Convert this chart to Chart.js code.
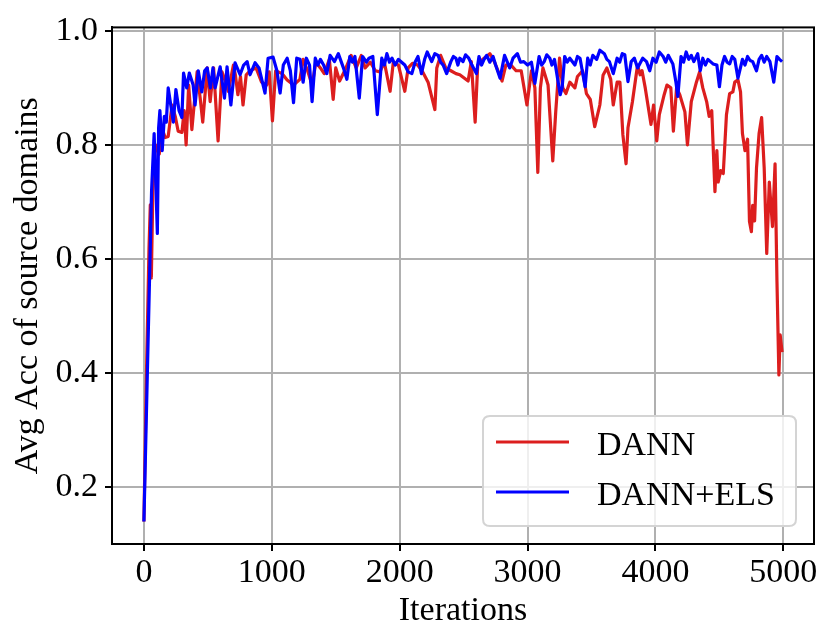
<!DOCTYPE html>
<html>
<head>
<meta charset="utf-8">
<script src="https://cdn.jsdelivr.net/npm/chart.js@4"></script>
<style>
  html, body { margin: 0; padding: 0; background: #ffffff; }
  #wrap { width: 831px; height: 644px; }
</style>
</head>
<body>
<div id="wrap"><canvas id="c" width="831" height="644"></canvas></div>
<script>
// ---- data (iteration, accuracy) ----
const seriesNames = ["DANN", "DANN+ELS"];
const seriesColors = ["#dc1e1e", "#0000ff"];

const dannIters = [0,20,40,50,58,70,90,120,140,166,190,220,245,268,297,315,330,350,375,416,440,460,495,518,545,580,610,640,660,700,715,735,755,775,800,830,877,920,960,980,1005,1030,1080,1120,1170,1220,1245,1280,1315,1345,1380,1410,1450,1480,1500,1530,1570,1620,1660,1700,1730,1770,1810,1845,1880,1925,1950,1990,2040,2066,2100,2140,2180,2222,2275,2290,2320,2360,2400,2440,2470,2535,2560,2590,2610,2650,2705,2740,2800,2830,2870,2910,2950,2995,3030,3057,3080,3100,3120,3160,3197,3220,3250,3275,3300,3330,3370,3390,3430,3460,3490,3525,3565,3590,3620,3650,3670,3700,3722,3745,3770,3785,3820,3860,3880,3895,3920,3965,3985,4010,4030,4068,4090,4120,4140,4165,4190,4230,4250,4280,4320,4345,4370,4400,4420,4440,4465,4480,4490,4510,4530,4555,4580,4605,4620,4645,4665,4680,4700,4720,4735,4750,4760,4775,4790,4810,4830,4850,4870,4890,4915,4935,4950,4965,4975,4990];
const dannAcc = [0.14,0.40,0.62,0.695,0.567,0.72,0.80,0.784,0.83,0.813,0.815,0.87,0.85,0.824,0.822,0.86,0.80,0.905,0.827,0.928,0.882,0.84,0.935,0.876,0.935,0.807,0.928,0.91,0.894,0.94,0.923,0.888,0.92,0.87,0.923,0.93,0.935,0.91,0.905,0.928,0.842,0.93,0.925,0.914,0.905,0.915,0.95,0.93,0.905,0.945,0.935,0.925,0.95,0.88,0.935,0.912,0.93,0.957,0.935,0.957,0.935,0.945,0.93,0.928,0.945,0.894,0.945,0.94,0.894,0.935,0.943,0.94,0.928,0.91,0.862,0.935,0.957,0.935,0.93,0.925,0.923,0.912,0.946,0.84,0.94,0.95,0.96,0.946,0.912,0.94,0.94,0.93,0.93,0.87,0.93,0.90,0.752,0.90,0.935,0.905,0.772,0.858,0.952,0.90,0.89,0.91,0.90,0.92,0.93,0.89,0.88,0.832,0.87,0.922,0.935,0.915,0.87,0.91,0.91,0.818,0.767,0.83,0.876,0.94,0.923,0.93,0.90,0.836,0.87,0.807,0.853,0.888,0.905,0.90,0.824,0.90,0.888,0.858,0.80,0.876,0.91,0.928,0.90,0.876,0.85,0.86,0.718,0.79,0.735,0.755,0.75,0.853,0.89,0.893,0.91,0.914,0.893,0.82,0.79,0.81,0.666,0.648,0.694,0.667,0.76,0.82,0.848,0.76,0.61,0.735,0.657,0.767,0.56,0.397,0.467,0.437];

const elsIters = [
  0,60,80,95,105,115,125,143,160,175,
  190,210,230,250,275,297,310,335,355,385,
  400,425,453,475,495,520,540,557,596,630,
  650,680,713,752,780,807,830,869,900,947,
  971,1010,1040,1065,1090,1120,1145,1170,1195,1221,
  1245,1270,1295,1315,1340,1360,1380,1405,1430,1456,
  1490,1520,1560,1587,1610,1630,1650,1684,1710,1740,
  1760,1790,1825,1860,1880,1900,1920,1940,1965,1990,
  2015,2040,2066,2095,2120,2143,2170,2195,2215,2250,
  2275,2300,2320,2340,2367,2400,2420,2440,2455,2470,
  2495,2515,2540,2565,2600,2620,2640,2660,2680,2705,
  2730,2750,2785,2820,2860,2886,2920,2945,2970,3000,
  3030,3057,3090,3110,3130,3150,3174,3190,3210,3255,
  3270,3290,3310,3330,3370,3390,3410,3450,3470,3490,
  3510,3540,3565,3600,3620,3640,3670,3700,3720,3740,
  3760,3785,3810,3835,3860,3900,3930,3955,3980,4005,
  4030,4060,4080,4100,4136,4160,4175,4200,4220,4240,
  4260,4280,4300,4330,4350,4370,4390,4410,4450,4480,
  4500,4520,4540,4560,4580,4600,4620,4645,4680,4700,
  4720,4740,4760,4790,4810,4830,4850,4870,4895,4925,
  4950,4970,4990];
const elsAcc = [
  0.14,0.72,0.82,0.72,0.645,0.83,0.86,0.79,0.85,0.84,
  0.90,0.87,0.84,0.897,0.86,0.848,0.926,0.90,0.926,0.905,
  0.87,0.93,0.893,0.93,0.935,0.90,0.935,0.90,0.937,0.882,
  0.937,0.87,0.944,0.923,0.94,0.946,0.923,0.944,0.935,0.891,
  0.952,0.954,0.93,0.891,0.94,0.952,0.93,0.874,0.952,0.95,
  0.91,0.952,0.94,0.876,0.952,0.94,0.95,0.94,0.925,0.957,
  0.946,0.96,0.935,0.915,0.955,0.945,0.955,0.882,0.955,0.945,
  0.952,0.955,0.853,0.952,0.94,0.96,0.945,0.952,0.94,0.95,
  0.945,0.94,0.928,0.925,0.945,0.955,0.925,0.95,0.963,0.946,
  0.96,0.957,0.945,0.94,0.925,0.946,0.955,0.952,0.94,0.952,
  0.946,0.958,0.952,0.94,0.925,0.955,0.94,0.95,0.957,0.945,
  0.955,0.94,0.917,0.957,0.935,0.952,0.96,0.945,0.946,0.94,
  0.945,0.908,0.955,0.94,0.946,0.958,0.952,0.94,0.95,0.888,
  0.90,0.955,0.945,0.952,0.94,0.955,0.952,0.902,0.952,0.94,
  0.957,0.95,0.966,0.96,0.95,0.946,0.925,0.952,0.945,0.96,
  0.958,0.911,0.946,0.952,0.935,0.952,0.946,0.93,0.952,0.945,
  0.963,0.955,0.945,0.957,0.942,0.91,0.885,0.955,0.945,0.963,
  0.95,0.957,0.946,0.96,0.93,0.952,0.94,0.95,0.942,0.94,
  0.902,0.94,0.955,0.945,0.942,0.955,0.95,0.917,0.95,0.94,
  0.955,0.948,0.946,0.93,0.95,0.957,0.945,0.955,0.946,0.91,
  0.955,0.95,0.946];

const xTickValues = [0, 1000, 2000, 3000, 4000, 5000];
const yTickValues = [0.2, 0.4, 0.6, 0.8, 1.0];
const xAxisTitle = "Iterations";
const yAxisTitle = "Avg Acc of source domains";

const toPoints = (xs, ys) => xs.map((x, i) => ({ x: x, y: ys[i] }));

const FONT = "'Liberation Serif', 'Times New Roman', serif";

const framePlugin = {
  id: 'frameAndLegend',
  afterDatasetsDraw(chart) {
    const ctx = chart.ctx;
    const a = chart.chartArea;
    ctx.save();
    ctx.strokeStyle = '#000000';
    ctx.lineWidth = 2;
    ctx.strokeRect(a.left, a.top, a.right - a.left, a.bottom - a.top);

    const w = 313, h = 110;
    const x0 = a.right - 18 - w, y0 = a.bottom - 18 - h;
    const r = 7;
    ctx.beginPath();
    ctx.moveTo(x0 + r, y0);
    ctx.lineTo(x0 + w - r, y0);
    ctx.quadraticCurveTo(x0 + w, y0, x0 + w, y0 + r);
    ctx.lineTo(x0 + w, y0 + h - r);
    ctx.quadraticCurveTo(x0 + w, y0 + h, x0 + w - r, y0 + h);
    ctx.lineTo(x0 + r, y0 + h);
    ctx.quadraticCurveTo(x0, y0 + h, x0, y0 + h - r);
    ctx.lineTo(x0, y0 + r);
    ctx.quadraticCurveTo(x0, y0, x0 + r, y0);
    ctx.closePath();
    ctx.fillStyle = 'rgba(255,255,255,0.8)';
    ctx.fill();
    ctx.strokeStyle = '#d4d4d4';
    ctx.lineWidth = 2;
    ctx.stroke();

    ctx.font = '34px ' + FONT;
    ctx.textAlign = 'left';
    ctx.textBaseline = 'alphabetic';
    [0, 1].forEach(i => {
      const ly = y0 + 26 + i * 50;
      ctx.strokeStyle = seriesColors[i];
      ctx.lineWidth = 3;
      ctx.beginPath();
      ctx.moveTo(x0 + 13, ly);
      ctx.lineTo(x0 + 86, ly);
      ctx.stroke();
      ctx.fillStyle = '#000000';
      ctx.fillText(seriesNames[i], x0 + 114, ly + 13);
    });
    ctx.restore();
  }
};

new Chart(document.getElementById('c'), {
  type: 'line',
  data: {
    datasets: [
      {
        label: seriesNames[0],
        data: toPoints(dannIters, dannAcc),
        borderColor: seriesColors[0],
        backgroundColor: seriesColors[0],
        borderWidth: 3.2,
        pointRadius: 0,
        tension: 0,
        borderJoinStyle: 'round',
        order: 2
      },
      {
        label: seriesNames[1],
        data: toPoints(elsIters, elsAcc),
        borderColor: seriesColors[1],
        backgroundColor: seriesColors[1],
        borderWidth: 3.2,
        pointRadius: 0,
        tension: 0,
        borderJoinStyle: 'round',
        order: 1
      }
    ]
  },
  options: {
    responsive: false,
    animation: false,
    events: [],
    layout: { padding: { top: 22, right: 17, left: 0, bottom: 0 } },
    plugins: {
      legend: { display: false },
      tooltip: { enabled: false },
      title: { display: false }
    },
    scales: {
      x: {
        type: 'linear',
        min: -249.5,
        max: 5239.5,
        afterFit(scale) { scale.height = 100; },
        afterBuildTicks(scale) { scale.ticks = xTickValues.map(v => ({ value: v })); },
        ticks: {
          includeBounds: false,
          stepSize: 1000,
          color: '#000000',
          padding: 2,
          maxRotation: 0,
          font: { family: FONT, size: 34 },
          callback: (v) => String(v)
        },
        grid: {
          color: '#b0b0b0',
          lineWidth: 2,
          tickLength: 7,
          tickColor: '#000000',
          tickWidth: 2
        },
        border: { display: true, color: '#000000', width: 2 },
        title: {
          display: true,
          text: xAxisTitle,
          color: '#000000',
          font: { family: FONT, size: 34 },
          padding: { top: 0, bottom: 13 }
        }
      },
      y: {
        type: 'linear',
        min: 0.1006,
        max: 1.006,
        afterFit(scale) { scale.width = 112; },
        afterBuildTicks(scale) { scale.ticks = yTickValues.map(v => ({ value: v })); },
        ticks: {
          includeBounds: false,
          stepSize: 0.2,
          color: '#000000',
          padding: 7,
          font: { family: FONT, size: 34 },
          callback: (v) => Number(v).toFixed(1)
        },
        grid: {
          color: '#b0b0b0',
          lineWidth: 2,
          tickLength: 7,
          tickColor: '#000000',
          tickWidth: 2
        },
        border: { display: true, color: '#000000', width: 2 },
        title: {
          display: true,
          text: yAxisTitle,
          color: '#000000',
          font: { family: FONT, size: 34 },
          padding: { top: 8, bottom: 0 }
        }
      }
    }
  },
  plugins: [framePlugin]
});
</script>
</body>
</html>
